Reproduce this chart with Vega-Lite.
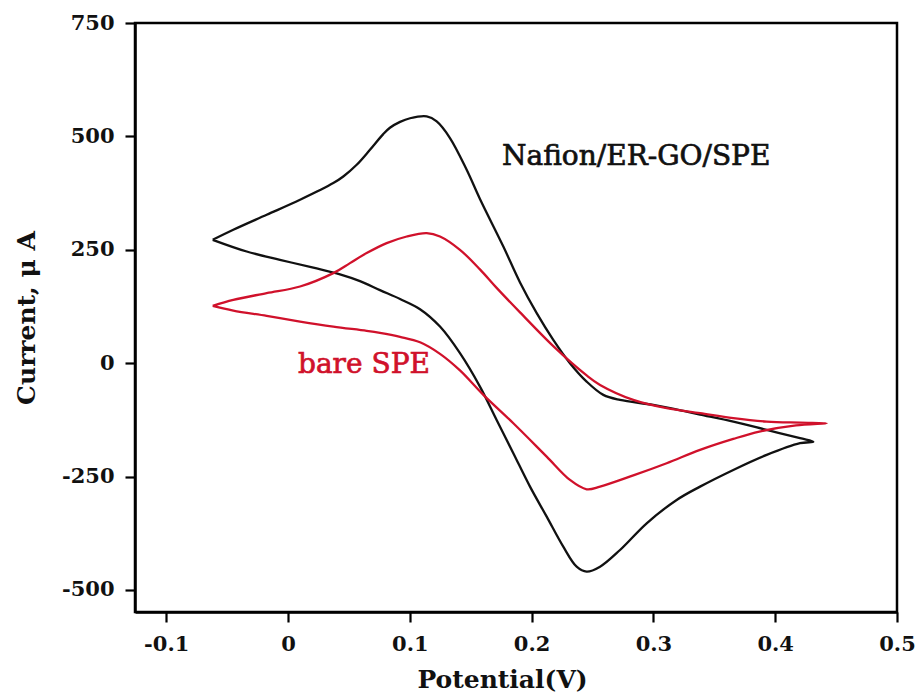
{
  "$schema": "https://vega.github.io/schema/vega-lite/v6.json",
  "width": 762,
  "height": 589,
  "autosize": {"type": "none"},
  "padding": {"left": 135, "top": 23, "right": 25, "bottom": 86},
  "background": "white",
  "config": {
    "view": {"stroke": "black", "strokeWidth": 2.5},
    "font": "DejaVu Serif"
  },
  "datasets": {
    "curves": [
      {"s": "N", "i": 1, "x": -0.0618, "y": 272.0},
      {"s": "N", "i": 2, "x": -0.0449, "y": 294.1},
      {"s": "N", "i": 3, "x": -0.0175, "y": 327.2},
      {"s": "N", "i": 4, "x": 0.0099, "y": 360.3},
      {"s": "N", "i": 5, "x": 0.0372, "y": 397.1},
      {"s": "N", "i": 6, "x": 0.0454, "y": 411.6},
      {"s": "N", "i": 7, "x": 0.0564, "y": 437.4},
      {"s": "N", "i": 8, "x": 0.0673, "y": 470.5},
      {"s": "N", "i": 9, "x": 0.0782, "y": 505.0},
      {"s": "N", "i": 10, "x": 0.0837, "y": 519.0},
      {"s": "N", "i": 11, "x": 0.0920, "y": 532.0},
      {"s": "N", "i": 12, "x": 0.1002, "y": 540.0},
      {"s": "N", "i": 13, "x": 0.1139, "y": 544.0},
      {"s": "N", "i": 14, "x": 0.1221, "y": 533.0},
      {"s": "N", "i": 15, "x": 0.1330, "y": 496.4},
      {"s": "N", "i": 16, "x": 0.1467, "y": 426.4},
      {"s": "N", "i": 17, "x": 0.1576, "y": 362.0},
      {"s": "N", "i": 18, "x": 0.1768, "y": 257.2},
      {"s": "N", "i": 19, "x": 0.1905, "y": 178.0},
      {"s": "N", "i": 20, "x": 0.2042, "y": 110.3},
      {"s": "N", "i": 21, "x": 0.2178, "y": 51.4},
      {"s": "N", "i": 22, "x": 0.2315, "y": 0},
      {"s": "N", "i": 23, "x": 0.2452, "y": -40.6},
      {"s": "N", "i": 24, "x": 0.2589, "y": -69.9},
      {"s": "N", "i": 25, "x": 0.2726, "y": -81.0},
      {"s": "N", "i": 26, "x": 0.2999, "y": -92.0},
      {"s": "N", "i": 27, "x": 0.3273, "y": -106.8},
      {"s": "N", "i": 28, "x": 0.3383, "y": -113.2},
      {"s": "N", "i": 29, "x": 0.3656, "y": -128.8},
      {"s": "N", "i": 30, "x": 0.3930, "y": -147.1},
      {"s": "N", "i": 31, "x": 0.4204, "y": -165.5},
      {"s": "N", "i": 32, "x": 0.4313, "y": -173.0},
      {"s": "N", "i": 33, "x": 0.4204, "y": -176.5},
      {"s": "N", "i": 34, "x": 0.3930, "y": -202.3},
      {"s": "N", "i": 35, "x": 0.3656, "y": -235.4},
      {"s": "N", "i": 36, "x": 0.3383, "y": -272.2},
      {"s": "N", "i": 37, "x": 0.3191, "y": -301.6},
      {"s": "N", "i": 38, "x": 0.2945, "y": -353.0},
      {"s": "N", "i": 39, "x": 0.2726, "y": -411.9},
      {"s": "N", "i": 40, "x": 0.2562, "y": -448.7},
      {"s": "N", "i": 41, "x": 0.2452, "y": -459.7},
      {"s": "N", "i": 42, "x": 0.2370, "y": -448.7},
      {"s": "N", "i": 43, "x": 0.2260, "y": -404.6},
      {"s": "N", "i": 44, "x": 0.2124, "y": -338.4},
      {"s": "N", "i": 45, "x": 0.1987, "y": -272.2},
      {"s": "N", "i": 46, "x": 0.1850, "y": -198.5},
      {"s": "N", "i": 47, "x": 0.1713, "y": -125.1},
      {"s": "N", "i": 48, "x": 0.1576, "y": -51.6},
      {"s": "N", "i": 49, "x": 0.1412, "y": 22.1},
      {"s": "N", "i": 50, "x": 0.1248, "y": 80.7},
      {"s": "N", "i": 51, "x": 0.1084, "y": 119.0},
      {"s": "N", "i": 52, "x": 0.0920, "y": 141.5},
      {"s": "N", "i": 53, "x": 0.0755, "y": 161.0},
      {"s": "N", "i": 54, "x": 0.0591, "y": 181.0},
      {"s": "N", "i": 55, "x": 0.0427, "y": 196.0},
      {"s": "N", "i": 56, "x": 0.0208, "y": 210.5},
      {"s": "N", "i": 57, "x": -0.0066, "y": 227.9},
      {"s": "N", "i": 58, "x": -0.0339, "y": 246.2},
      {"s": "N", "i": 59, "x": -0.0618, "y": 272.0},
      {"s": "B", "i": 1, "x": -0.0618, "y": 126.4},
      {"s": "B", "i": 2, "x": -0.0449, "y": 139.6},
      {"s": "B", "i": 3, "x": -0.0175, "y": 154.4},
      {"s": "B", "i": 4, "x": 0.0099, "y": 169.0},
      {"s": "B", "i": 5, "x": 0.0372, "y": 198.5},
      {"s": "B", "i": 6, "x": 0.0509, "y": 220.6},
      {"s": "B", "i": 7, "x": 0.0646, "y": 242.7},
      {"s": "B", "i": 8, "x": 0.0810, "y": 264.7},
      {"s": "B", "i": 9, "x": 0.0975, "y": 279.3},
      {"s": "B", "i": 10, "x": 0.1139, "y": 286.8},
      {"s": "B", "i": 11, "x": 0.1248, "y": 279.3},
      {"s": "B", "i": 12, "x": 0.1412, "y": 249.9},
      {"s": "B", "i": 13, "x": 0.1576, "y": 206.8},
      {"s": "B", "i": 14, "x": 0.1713, "y": 166.0},
      {"s": "B", "i": 15, "x": 0.1905, "y": 112.0},
      {"s": "B", "i": 16, "x": 0.2178, "y": 37.6},
      {"s": "B", "i": 17, "x": 0.2452, "y": -27.0},
      {"s": "B", "i": 18, "x": 0.2562, "y": -47.9},
      {"s": "B", "i": 19, "x": 0.2835, "y": -80.9},
      {"s": "B", "i": 20, "x": 0.3109, "y": -99.3},
      {"s": "B", "i": 21, "x": 0.3383, "y": -110.3},
      {"s": "B", "i": 22, "x": 0.3656, "y": -121.3},
      {"s": "B", "i": 23, "x": 0.3930, "y": -128.8},
      {"s": "B", "i": 24, "x": 0.4204, "y": -131.0},
      {"s": "B", "i": 25, "x": 0.4423, "y": -132.4},
      {"s": "B", "i": 26, "x": 0.4171, "y": -137.2},
      {"s": "B", "i": 27, "x": 0.3870, "y": -150.8},
      {"s": "B", "i": 28, "x": 0.3656, "y": -167.0},
      {"s": "B", "i": 29, "x": 0.3383, "y": -191.2},
      {"s": "B", "i": 30, "x": 0.3109, "y": -220.6},
      {"s": "B", "i": 31, "x": 0.2835, "y": -247.5},
      {"s": "B", "i": 32, "x": 0.2562, "y": -272.2},
      {"s": "B", "i": 33, "x": 0.2452, "y": -278.0},
      {"s": "B", "i": 34, "x": 0.2315, "y": -257.4},
      {"s": "B", "i": 35, "x": 0.2124, "y": -206.0},
      {"s": "B", "i": 36, "x": 0.1850, "y": -132.4},
      {"s": "B", "i": 37, "x": 0.1604, "y": -69.9},
      {"s": "B", "i": 38, "x": 0.1412, "y": -16.0},
      {"s": "B", "i": 39, "x": 0.1248, "y": 20.5},
      {"s": "B", "i": 40, "x": 0.1084, "y": 46.0},
      {"s": "B", "i": 41, "x": 0.0920, "y": 58.0},
      {"s": "B", "i": 42, "x": 0.0755, "y": 66.8},
      {"s": "B", "i": 43, "x": 0.0646, "y": 71.3},
      {"s": "B", "i": 44, "x": 0.0372, "y": 80.7},
      {"s": "B", "i": 45, "x": 0.0099, "y": 91.8},
      {"s": "B", "i": 46, "x": -0.0175, "y": 104.3},
      {"s": "B", "i": 47, "x": -0.0449, "y": 116.0},
      {"s": "B", "i": 48, "x": -0.0618, "y": 126.4}
    ],
    "labels": [
      {"s": "N", "x": 0.1757, "y": 437.5, "t": "Nafion/ER-GO/SPE"},
      {"s": "B", "x": 0.0082, "y": -20.7, "t": "bare SPE"}
    ]
  },
  "encoding": {
    "x": {
      "field": "x", "type": "quantitative",
      "scale": {"domain": [-0.1256, 0.5], "nice": false, "zero": false},
      "axis": {
        "title": "Potential(V)",
        "values": [-0.1, 0, 0.1, 0.2, 0.3, 0.4, 0.5],
        "labelExpr": "datum.value < 0 ? '-' + format(-datum.value, '.1~f') : format(datum.value, '.1~f')",
        "grid": false, "domainColor": "black", "domainWidth": 2.5,
        "tickColor": "black", "tickWidth": 2.2, "tickSize": 10,
        "labelFont": "DejaVu Serif", "labelFontSize": 21, "labelFontWeight": "bold", "labelColor": "#111111", "labelPadding": 11,
        "labelFlush": false,
        "titleFont": "DejaVu Serif", "titleFontSize": 25, "titleFontWeight": "bold", "titleColor": "#111111",
        "titlePadding": 13, "titleX": 367
      }
    },
    "y": {
      "field": "y", "type": "quantitative",
      "scale": {"domain": [-548.6, 750], "nice": false, "zero": false},
      "axis": {
        "title": "Current, μ A",
        "values": [-500, -250, 0, 250, 500, 750],
        "labelExpr": "datum.value < 0 ? '-' + format(-datum.value, 'd') : format(datum.value, 'd')",
        "grid": false, "domainColor": "black", "domainWidth": 2.5,
        "tickColor": "black", "tickWidth": 2.2, "tickSize": 10,
        "labelFont": "DejaVu Serif", "labelFontSize": 21, "labelFontWeight": "bold", "labelColor": "#111111", "labelPadding": 11,
        "labelFlush": false,
        "titleFont": "DejaVu Serif", "titleFontSize": 25, "titleFontWeight": "bold", "titleColor": "#111111",
        "titlePadding": 22
      }
    },
    "color": {
      "field": "s", "type": "nominal",
      "scale": {"domain": ["N", "B"], "range": ["#111111", "#d0112b"]},
      "legend": null
    }
  },
  "layer": [
    {
      "data": {"name": "curves"},
      "mark": {"type": "line", "strokeWidth": 2.3, "interpolate": "catmull-rom"},
      "encoding": {
        "order": {"field": "i", "type": "quantitative"},
        "detail": {"field": "s"}
      }
    },
    {
      "data": {"name": "labels"},
      "mark": {"type": "text", "align": "left", "baseline": "alphabetic", "fontSize": 28, "font": "DejaVu Serif", "strokeWidth": 0.7},
      "encoding": {
        "text": {"field": "t"},
        "stroke": {
          "field": "s", "type": "nominal",
          "scale": {"domain": ["N", "B"], "range": ["#111111", "#d0112b"]},
          "legend": null
        }
      }
    }
  ]
}
